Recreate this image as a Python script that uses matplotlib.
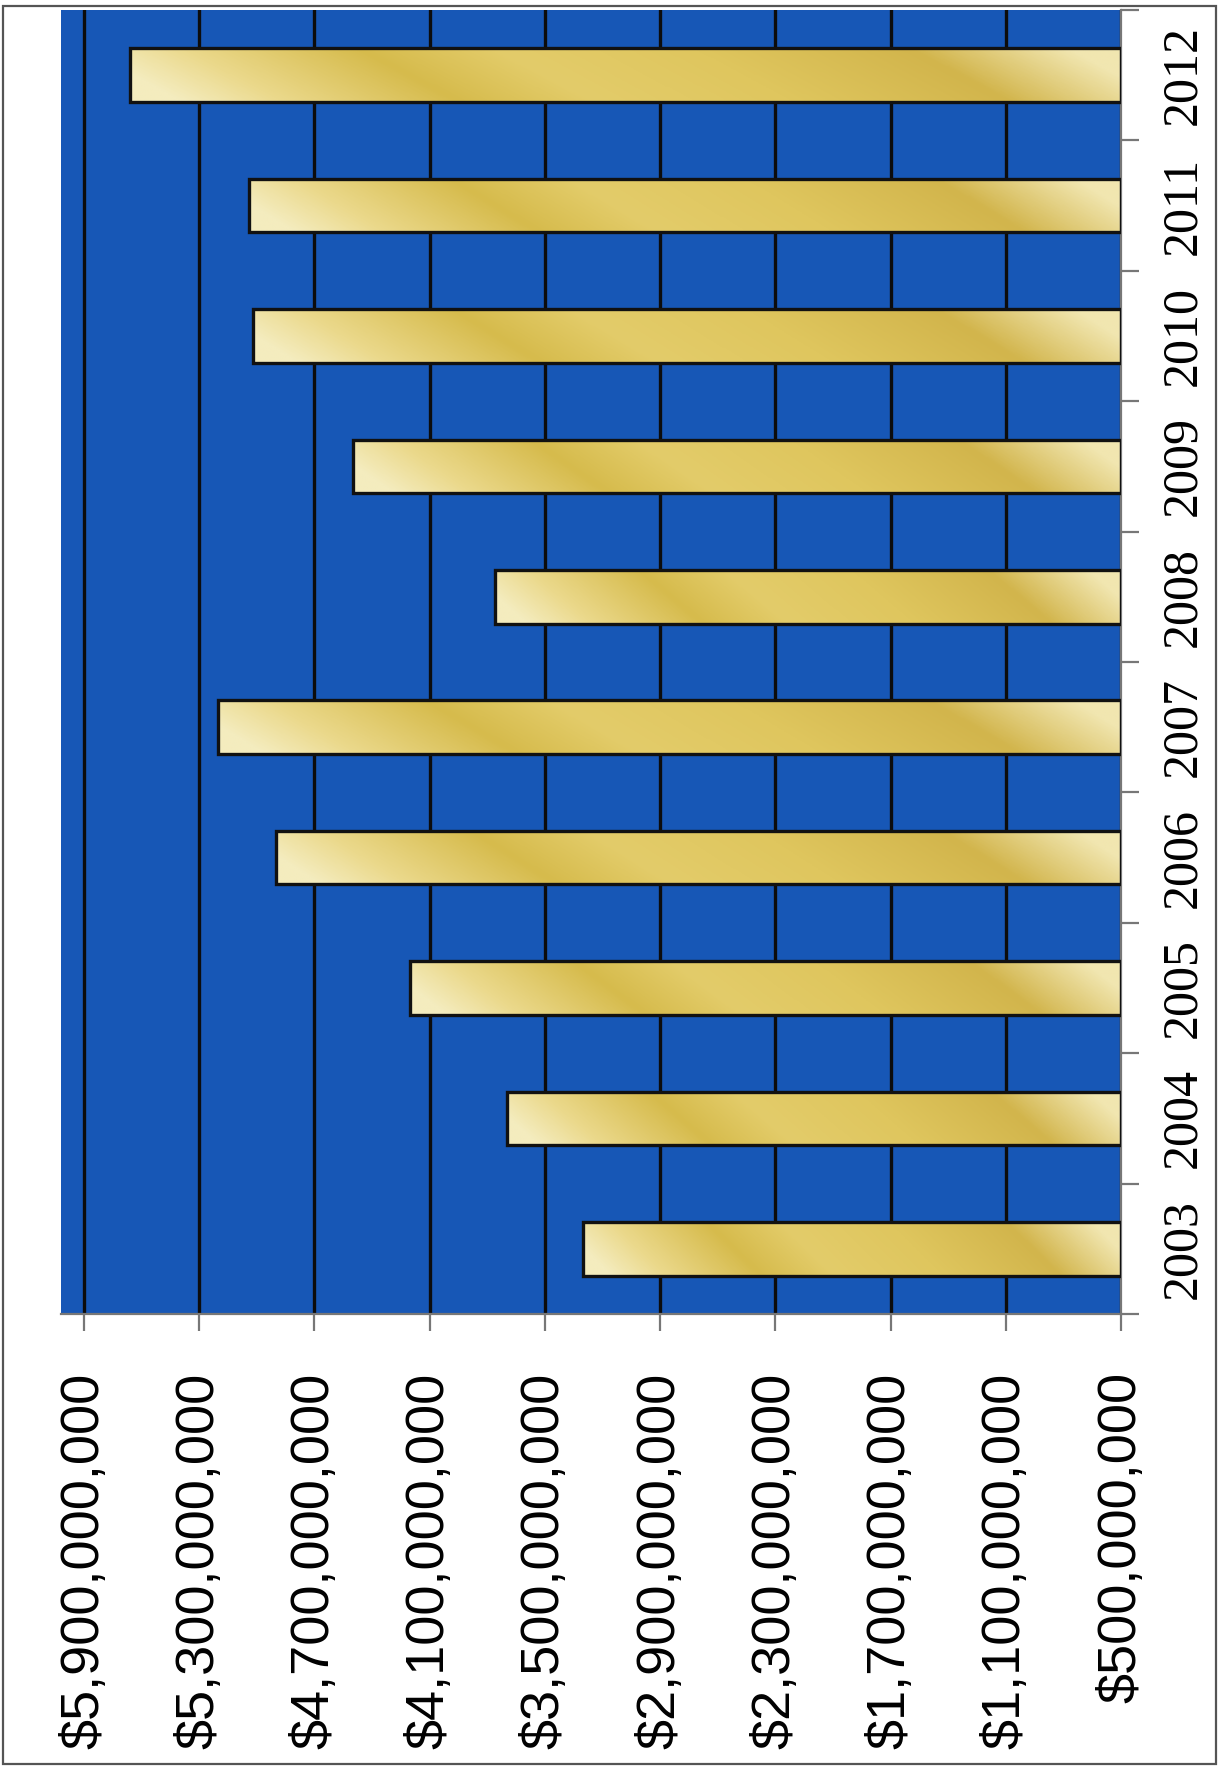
import numpy as np
import matplotlib
matplotlib.use("Agg")
import matplotlib.pyplot as plt
from matplotlib.colors import LinearSegmentedColormap
from matplotlib.patches import Rectangle
from matplotlib.ticker import FuncFormatter

# Annual totals in dollars
years = ["2003", "2004", "2005", "2006", "2007", "2008", "2009", "2010", "2011", "2012"]
totals = [3.30e9, 3.70e9, 4.20e9, 4.90e9, 5.20e9, 3.76e9, 4.50e9, 5.02e9, 5.04e9, 5.66e9]
value_ticks = [0.5e9, 1.1e9, 1.7e9, 2.3e9, 2.9e9, 3.5e9, 4.1e9, 4.7e9, 5.3e9, 5.9e9]
axis_base = 0.5e9
axis_top = 6.02e9

W, H = 1225, 1768
fig = plt.figure(figsize=(W / 100, H / 100), dpi=100)
fig.patch.set_facecolor("white")

sans_family = "Liberation Sans"
serif_family = "Liberation Serif"

left_px, right_px, top_px, bottom_px = 61, 1121, 10, 1314
ax = fig.add_axes([left_px / W, 1 - bottom_px / H,
                   (right_px - left_px) / W, (bottom_px - top_px) / H])
ax.set_facecolor("#1757b6")

pos = np.arange(len(years))
bar_h = 0.41

gold = LinearSegmentedColormap.from_list("gold", [
    (0.00, "#f4ecbe"), (0.10, "#ebd98c"), (0.28, "#d6bb4c"),
    (0.42, "#e3cc6a"), (0.62, "#dfc65e"), (0.84, "#d2b54c"), (1.00, "#f1e6b0")])

bars = ax.barh(pos, [v - axis_base for v in totals], left=axis_base, height=bar_h,
               facecolor="none", edgecolor="#111111", linewidth=2.4, zorder=3)

# shaded gold fill, clipped to each bar
nx, ny = 400, 40
for bar, y, v in zip(bars, pos, totals):
    u = np.linspace(0, 1, nx)[None, :] + 0.05 * np.linspace(-1, 1, ny)[:, None]
    img = gold(np.clip(u, 0, 1))
    im = ax.imshow(img, extent=(v, axis_base, y - bar_h / 2, y + bar_h / 2),
                   origin="lower", aspect="auto", interpolation="bilinear", zorder=2.5)
    im.set_clip_path(bar)

ax.set_xlim(axis_top, axis_base)
ax.set_ylim(-0.5, len(years) - 0.5)

# value axis (bottom)
ax.set_xticks(value_ticks)
ax.xaxis.set_major_formatter(FuncFormatter(lambda t, p: f"${t:,.0f}"))
ax.tick_params(axis="x", direction="out", length=12, width=1.6, color="#777777",
               pad=30, labelsize=39, labelrotation=90, labelfontfamily=sans_family)
ax.xaxis.grid(True, color="#0c0c0c", linewidth=2.4)
ax.set_axisbelow(True)

# category axis (right)
ax.yaxis.tick_right()
ax.set_yticks(pos)
ax.set_yticklabels(years)
ax.set_yticks(np.arange(-0.5, len(years), 1.0), minor=True)
ax.tick_params(axis="y", which="major", length=0, pad=28, left=False, right=True,
               labelsize=36, labelrotation=90, labelfontfamily=serif_family)
ax.tick_params(axis="y", which="minor", length=13, width=1.6, color="#777777",
               left=False, right=True, direction="out")
for lab in ax.get_yticklabels():
    lab.set_va("center")
    lab.set_ha("left")

for side in ("left", "top"):
    ax.spines[side].set_visible(False)
for side in ("bottom", "right"):
    ax.spines[side].set_color("#777777")
    ax.spines[side].set_linewidth(1.6)

# page frame
fig.add_artist(Rectangle((3 / W, 4 / H), 1213 / W, 1758 / H, transform=fig.transFigure,
                         fill=False, edgecolor="#555555", linewidth=1.6))

fig.savefig("out.png", dpi=100, facecolor="white")
